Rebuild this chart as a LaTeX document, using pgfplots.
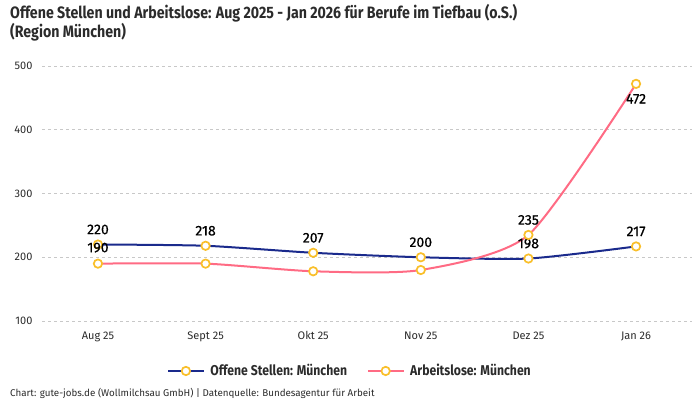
\documentclass[border=0pt]{standalone}
\usepackage{pgfplots}
\pgfplotsset{compat=1.18}
\usepackage{pgfplotstable}
\usepackage{fontspec}
\setmainfont{Fira Sans}
\newfontfamily\condfont[FakeStretch=0.86]{Fira Sans}
\newfontfamily\medfont[FakeBold=0.6]{Fira Sans}

\definecolor{navy}{HTML}{1A2A8C}
\definecolor{rose}{HTML}{FF6B84}
\definecolor{gold}{HTML}{F9BF2A}
\definecolor{gridgray}{HTML}{C8C8C8}
\definecolor{textdark}{HTML}{2B2B2B}

% x = month index, lab = label shown, dy = label offset
\pgfplotstableread{
x y lab dy
0 220 220 15
1 218 218 15
2 207 207 15
3 200 200 15
4 198 198 15
5 217 217 15
}\stellen
\pgfplotstableread{
x y lab dy
0 190 190 16
1 190 {} 15
2 178 {} 15
3 180 {} 15
4 235 235 15
5 472 472 -15
}\arbeitslose

\begin{document}
\begin{tikzpicture}
\useasboundingbox (0,0) rectangle (700pt,400pt);
\node[anchor=north west, align=left, inner sep=0pt, text=textdark,
      font=\condfont\bfseries\fontsize{16.5}{19}\selectfont] at (10pt,396pt)
  {Offene Stellen und Arbeitslose: Aug 2025 - Jan 2026 für Berufe im Tiefbau (o.S.)\\(Region München)};
\begin{axis}[
    at={(42pt,79pt)}, anchor=south west,
    scale only axis, width=650pt, height=255pt,
    xmin=-0.52, xmax=5.52, ymin=100, ymax=500,
    ytick={100,200,...,500},
    xtick={0,...,5},
    xticklabels={Aug 25, Sept 25, Okt 25, Nov 25, Dez 25, Jan 26},
    ymajorgrids, grid style={dashed, gridgray, line width=0.8pt},
    axis line style={draw=none}, major tick length=0pt,
    tick label style={font=\fontsize{11}{13}\selectfont, text=textdark},
    /pgf/number format/assume math mode=true,
    yticklabel style={xshift=-6pt},
    xticklabel style={yshift=-7pt},
    clip=false,
    legend style={at={(axis description cs:0.474,-0.196)}, anchor=center,
        draw=none, fill=none, legend columns=2,
        font=\condfont\bfseries\fontsize{14.2}{16}\selectfont, text=textdark,
        /tikz/every odd column/.style={column sep=4pt},
        /tikz/every even column/.style={column sep=18pt}},
    legend image code/.code={
        \draw[mark repeat=2, mark phase=2, #1] plot coordinates {(0pt,0pt) (17.5pt,0pt) (35pt,0pt)};},
    every axis plot/.append style={smooth, tension=0.4, line width=2pt,
        mark=*, mark size=4.2pt,
        mark options={draw=gold, fill=white, line width=1.7pt}},
    point meta=explicit symbolic,
    nodes near coords,
    visualization depends on={\thisrow{dy} \as \dy},
    every node near coord/.style={anchor=center, yshift=\dy pt,
        font=\medfont\fontsize{14}{16}\selectfont, text=black, inner sep=0pt},
]
\addplot[navy] table[x=x, y=y, meta=lab] {\stellen};
\addlegendentry{Offene Stellen: München}
\addplot[rose] table[x=x, y=y, meta=lab] {\arbeitslose};
\addlegendentry{Arbeitslose: München}
\end{axis}
\node[anchor=base west, inner sep=0pt, text=textdark,
      font=\fontsize{9.8}{12}\selectfont] at (10pt,4pt)
  {Chart: gute-jobs.de (Wollmilchsau GmbH) | Datenquelle: Bundesagentur für Arbeit};
\end{tikzpicture}
\end{document}
